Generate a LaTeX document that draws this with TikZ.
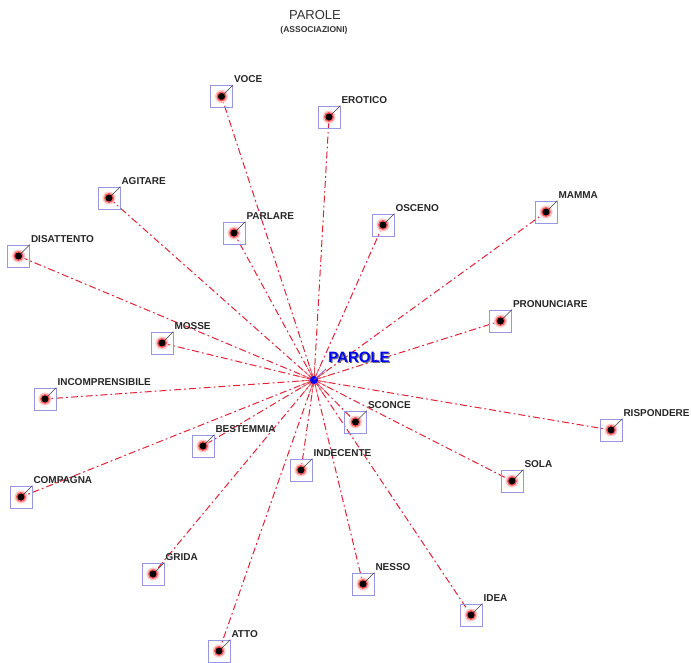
\documentclass[tikz,border=0pt]{standalone}
\usepackage{fontspec}
\setmainfont{Liberation Sans}
\usetikzlibrary{calc,backgrounds}
\definecolor{lineRed}{RGB}{225,35,55}
\definecolor{boxBlue}{RGB}{150,150,225}
\definecolor{ptrGray}{RGB}{60,60,60}
\newcommand\leafnode[4]{%
  \node[leafbox] (#1) at (#2,#3) {};
  \node[haloA] at (#1.center) {};
  \node[haloB] at (#1.center) {};
  \draw[pointer] (#1.center) -- (#1.north east);
  \node[coreDot] (#1-d) at (#1.center) {};
  \node[lbl] (#1-l) at ($(#1.north east)+(1,-2.5)$) {#4};
}
\begin{document}
\begin{tikzpicture}[x=1pt,y=-1pt,
  leafbox/.style={draw=boxBlue, line width=0.6pt, minimum size=22pt, inner sep=0pt},
  haloA/.style={circle, fill=red!22, minimum size=13pt, inner sep=0pt},
  haloB/.style={circle, fill=red!65, minimum size=10pt, inner sep=0pt},
  coreDot/.style={circle, fill=black, minimum size=7pt, inner sep=0pt},
  pointer/.style={draw=ptrGray, line width=0.6pt},
  lbl/.style={anchor=base west, inner sep=0pt, font=\bfseries\fontsize{10}{12}\selectfont, text=black!85},
  conn/.style={draw=lineRed, line width=1pt, dash pattern=on 7pt off 3pt on 1.8pt off 3pt},
  burst/.style={draw=lineRed!80, line width=0.7pt}]
\useasboundingbox (0,0) rectangle (691,662);

% title
\node[font=\fontsize{13}{15}\selectfont, text=black!80] (title) at (315,15) {PAROLE};
\node[font=\bfseries\fontsize{8.5}{10}\selectfont, text=black!80] (subtitle) at (314,30) {(ASSOCIAZIONI)};

% leaves
\leafnode{voce}{221.5}{96.5}{VOCE}
\leafnode{erotico}{329}{117}{EROTICO}
\leafnode{agitare}{109}{198}{AGITARE}
\leafnode{parlare}{234}{233}{PARLARE}
\leafnode{osceno}{383}{225}{OSCENO}
\leafnode{mamma}{546}{212}{MAMMA}
\leafnode{disattento}{18.5}{256}{DISATTENTO}
\leafnode{pronunciare}{500.5}{321}{PRONUNCIARE}
\leafnode{mosse}{162}{343}{MOSSE}
\leafnode{incomprensibile}{45}{399}{INCOMPRENSIBILE}
\leafnode{sconce}{355.5}{422}{SCONCE}
\leafnode{rispondere}{611}{430}{RISPONDERE}
\leafnode{bestemmia}{203}{446}{BESTEMMIA}
\leafnode{indecente}{301}{470}{INDECENTE}
\leafnode{sola}{512}{481}{SOLA}
\leafnode{compagna}{21}{497}{COMPAGNA}
\leafnode{grida}{153}{574}{GRIDA}
\leafnode{nesso}{363}{584}{NESSO}
\leafnode{idea}{471}{615}{IDEA}
\leafnode{atto}{219}{651}{ATTO}

% centre
\node[circle, fill=blue, minimum size=8pt, inner sep=0pt] (c) at (314,380) {};
\coordinate (cptr) at (326,369);
\draw[draw=blue!60!red!70, line width=0.8pt] (c.center) -- (cptr);
\node[font=\bfseries\fontsize{15}{17}\selectfont, text=black!55] at (360.2,358.2) {PAROLE};
\node[font=\bfseries\fontsize{15}{17}\selectfont, text=blue] (clabel) at (359,357) {PAROLE};

\begin{scope}[on background layer]
\foreach \n in {voce,erotico,agitare,parlare,osceno,mamma,disattento,pronunciare,mosse,incomprensibile,sconce,rispondere,bestemmia,indecente,sola,compagna,grida,nesso,idea,atto}{
  \draw[conn] (c.center) -- (\n.center);
  \draw[burst] (c.center) -- ($(c.center)!14pt!(\n.center)$);
}
\end{scope}
\end{tikzpicture}
\end{document}
